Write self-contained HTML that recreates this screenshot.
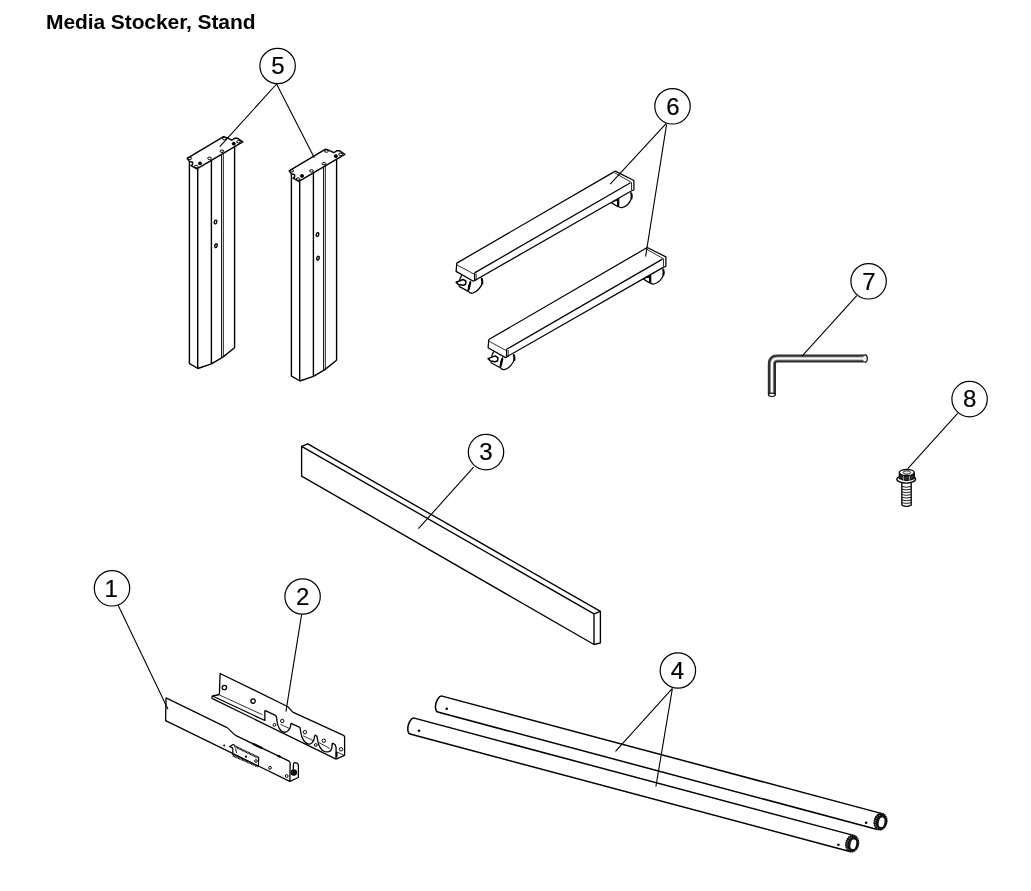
<!DOCTYPE html>
<html><head><meta charset="utf-8">
<style>
html,body{margin:0;padding:0;background:#fff;}
body{width:1031px;height:891px;overflow:hidden;position:relative;}
#title{position:absolute;left:45.9px;top:9.7px;letter-spacing:-0.09px;will-change:transform;font:bold 21px "Liberation Sans",sans-serif;color:#000;white-space:nowrap;}
svg{position:absolute;left:0;top:0;will-change:transform;}
.cn{font:24px "Liberation Sans",sans-serif;fill:#000;stroke:#000;stroke-width:0.2;}
</style></head><body>
<div id="title">Media Stocker, Stand</div>
<svg width="1031" height="891" viewBox="0 0 1031 891">
<defs>
<g id="pillar" fill="none" stroke="#000" stroke-width="1.4" stroke-linejoin="round">
  <path d="M187.1,158.3 L223.6,136.7 L227.1,137.9 L231.8,140.2 L235,138.2 L237.3,138.2 L242.8,141.8 L196.9,168.9 L191,165.7 L192.6,164.6 L192.6,162.2 L189.4,161.4 Z"/>
  <path d="M189.4,161.4 V363.4 M197.7,168.9 V368.5 M211.4,160.6 V363.8 M234.6,146.9 V347.7 M189.2,363.4 L197.9,368.5 L211.4,363.8 L222.5,357.4 L234.6,347.7"/>
  <path d="M221.5,154.6 V357.6 M223.3,153.5 V356.5" stroke-width="0.9"/>
  <ellipse cx="215.5" cy="222" rx="1.2" ry="1.9" transform="rotate(20 215.5 222)"/>
  <ellipse cx="216" cy="245.7" rx="1.2" ry="1.9" transform="rotate(20 216 245.7)"/>
  <g stroke-width="1">
  <ellipse cx="189.8" cy="158.3" rx="1.9" ry="1.2"/>
  <ellipse cx="196.1" cy="166.5" rx="1.9" ry="1.2"/>
  <ellipse cx="209.5" cy="158.3" rx="1.9" ry="1.2"/>
  <ellipse cx="222" cy="151.2" rx="1.9" ry="1.2"/>
  <ellipse cx="224.4" cy="138.6" rx="1.9" ry="1.2"/>
  <ellipse cx="238.5" cy="141.8" rx="1.9" ry="1.2"/>
  <ellipse cx="200" cy="163.4" rx="1.6" ry="1.4" fill="#000"/>
  <ellipse cx="233.8" cy="143.7" rx="1.6" ry="1.4" fill="#000"/>
  </g>
</g>
<g id="bar" fill="none" stroke="#000" stroke-width="1.25" stroke-linejoin="round">
  <!-- right caster -->
  <path d="M618.2,197 C617.5,200 617.5,203.5 618,206 C619,207.5 620.5,207.8 622,207.6 C626,207 630,203 631.5,198.3 C632,196 631.5,193.5 630.8,192" fill="#fff"/>
  <path d="M618.3,198 V206 M631.2,193 C631.8,195 631.8,197 631.4,199" stroke-width="2"/>
  <path d="M610.8,202.4 L617.6,199.7 L617.6,206.5 Z"/>
  <!-- left caster -->
  <path d="M470.7,281 C469,284 468,288 468.3,291 C469.5,293 471.5,293.5 473,293 C477,292 481.5,287 482.6,282 C482.8,280 482,278.5 481.2,277.8" fill="#fff"/>
  <path d="M470.5,282 L468.6,290 M481.6,278.5 C482.4,280.5 482.5,282.5 482.2,284.5" stroke-width="2"/>
  <path d="M461.8,274.8 L459.5,280.2 M458.8,285.3 L459.5,286.6 L468.3,291.4"/>
  <path d="M456.1,282.2 L463.2,279.5 L465.9,281.2 L465.6,284.3 L463.5,285.3 L458.5,284.6 Z" stroke-width="1.5"/>
  <!-- body -->
  <path d="M456.8,263.1 L615.3,171.1 L633.9,180.5 V189.8 L630.8,191.2 L473.4,281.2 L456.1,271.4 Z" fill="#fff"/>
  <path d="M474.6,272.9 L630.5,182.7 M474.6,272.9 V281"/>
  <path d="M456.8,264.8 L474.3,274.2 M614.6,172.8 L631.5,182.4 V190.2 M476.2,273.5 V280.5" stroke-width="0.8"/>
</g>
<g id="tube" fill="none" stroke="#000" stroke-width="1.5">
  <path d="M0,-8.25 L454.5,-8.25 M0,8.25 L455,8.25 M0,-8.25 A4,8.25 0 0 0 0,8.25"/>
  <circle cx="7.8" cy="2.7" r="1.3" fill="#000" stroke="none"/>
  <circle cx="442.4" cy="4.7" r="1.3" fill="#000" stroke="none"/>
</g>
<g id="ring">
  <ellipse cx="880.5" cy="821.6" rx="6.5" ry="8.5" transform="rotate(12 880.5 821.6)" fill="#111" stroke="#000" stroke-width="1" stroke-dasharray="1.6 0.6"/>
  <path d="M879.6,815.6 A3.6,6.2 12 0 0 878.3,828" fill="none" stroke="#fff" stroke-width="0.8" stroke-dasharray="0.7 1.3"/>
  <ellipse cx="881.6" cy="822.3" rx="2.8" ry="4.8" transform="rotate(12 881.6 822.3)" fill="#fff"/>
</g>
</defs>

<!-- callouts -->
<g fill="#fff" stroke="#000" stroke-width="1.2">
  <circle cx="277.6" cy="66" r="17.7"/>
  <circle cx="672.5" cy="106.3" r="17.7"/>
  <circle cx="868.6" cy="281.3" r="17.7"/>
  <circle cx="969.6" cy="399.1" r="17.7"/>
  <circle cx="486" cy="452.1" r="17.7"/>
  <circle cx="112" cy="588.3" r="17.7"/>
  <circle cx="302.6" cy="596.5" r="17.7"/>
  <circle cx="677.9" cy="670.5" r="17.7"/>
</g>
<g class="cn" text-anchor="middle">
  <text x="278" y="74">5</text>
  <text x="672.9" y="114.6">6</text>
  <text x="869" y="290">7</text>
  <text x="969.8" y="406.8">8</text>
  <text x="485.9" y="459.8">3</text>
  <text x="111.3" y="597">1</text>
  <text x="302.8" y="605">2</text>
  <text x="677.4" y="679">4</text>
</g>
<!-- part 5 pillars -->
<use href="#pillar"/>
<use href="#pillar" transform="translate(102,12.5)"/>

<!-- part 6 bars -->
<use href="#bar"/>
<use href="#bar" transform="translate(32,76.4)"/>

<!-- part 7 hex key -->
<g fill="none">
  <path d="M771.9,394.6 V364 Q771.9,358.5 777.4,358.5 H865" stroke="#2e2e2e" stroke-width="8.2"/>
  <path d="M771.9,394.6 V364 Q771.9,358.5 777.4,358.5 H865" stroke="#8a8a8a" stroke-width="3.8"/>
  <path d="M771.9,394.6 V364 Q771.9,358.5 777.4,358.5 H865" stroke="#fff" stroke-width="2"/>
  <ellipse cx="865" cy="358.6" rx="2" ry="2.9" fill="#fff"/>
  <path d="M864.8,354.6 Q867.4,355.2 867.3,358.6 Q867.4,362 864.8,362.6" stroke="#111" stroke-width="1.2"/>
  <ellipse cx="771.9" cy="394.8" rx="3.5" ry="1.7" fill="#fff" stroke="#111" stroke-width="1.1"/>
</g>

<!-- part 8 bolt -->
<g stroke="#000" stroke-width="1.1">
  <path d="M901.8,483 V505 Q906.5,507.8 911.2,505 V483" fill="#fff" stroke-width="1.3"/>
  <path d="M902,486.5 Q906.5,488 911,486.5 M902,489.2 Q906.5,490.7 911,489.2 M902,491.9 Q906.5,493.4 911,491.9 M902,494.6 Q906.5,496.1 911,494.6 M902,497.3 Q906.5,498.8 911,497.3 M902,500 Q906.5,501.5 911,500 M902,502.7 Q906.5,504.2 911,502.7" fill="none" stroke-width="0.9"/>
  <ellipse cx="906.2" cy="479.2" rx="9.4" ry="3.9" fill="#fff" stroke-width="1.4"/>
  <path d="M899.3,472.5 V478.5 Q906.8,482.5 914.3,478.5 V472.5" fill="#2a2a2a"/>
  <path d="M903.5,475.5 V480.8 M909.5,475.5 V480.8" stroke="#bbb" stroke-width="0.7"/>
  <ellipse cx="906.8" cy="472.5" rx="7.5" ry="3.2" fill="#fff" stroke-width="1.3"/>
  <ellipse cx="906.8" cy="472.5" rx="3.8" ry="1.7" fill="#eee" stroke-width="0.9"/>
</g>

<!-- part 3 board -->
<g fill="none" stroke="#000" stroke-width="1.35" stroke-linejoin="round">
  <path d="M301.6,446.3 L594,613.9 V644.5 L301.6,476.1 Z"/>
  <path d="M301.6,446.3 L307.8,443.8 L600.4,611.4 L594,613.9"/>
  <path d="M600.4,611.4 V642.9 L594,644.5"/>
</g>

<!-- part 4 tubes -->
<use href="#tube" transform="translate(439.9,704.1) rotate(14.95)"/>
<use href="#tube" transform="translate(412.2,726.1) rotate(14.95)"/>
<use href="#ring"/>
<use href="#ring" transform="translate(-28.3,22)"/>

<!-- part 1 -->
<g fill="none" stroke="#000" stroke-width="1.3" stroke-linejoin="round">
  <path d="M166,697.9 L226.5,727.3 C229.5,729 232,733 235.5,735.3 L289.1,761.2 Q290.2,762 290.2,763.5 L289.8,781.4 L165.6,720.6 Z"/>
  <path d="M252.9,743.8 L262.2,748.3 M277.5,755.6 L280.5,757" stroke-width="2.2"/>
  <path d="M289.8,781.4 L298.4,777.5 V765.5 Q298.4,763.5 296.5,762.9 L294.5,762.6 Q293.6,762.8 293.5,764 L293.3,769.7"/>
  <circle cx="293.8" cy="772.5" r="2.6" fill="#111"/>
  <path d="M232.8,748.1 L229.7,746.4 L233.1,744.5 L235,745.5 M232.8,748.1 V755 M258.7,757.3 L258.4,766.4" stroke-width="1.2"/>
  <path d="M234.5,746.2 L258.7,757.8 M232.8,755.4 L258.4,766.6" stroke-width="2.2" stroke-dasharray="1 0.45"/>
  <path d="M235.5,748.5 L236.5,753" stroke-width="0.9"/>
  <circle cx="256" cy="761" r="1.3" stroke-width="1"/>
  <circle cx="270" cy="767.8" r="1.4" stroke-width="1"/>
  <circle cx="286.7" cy="776" r="1.4" stroke-width="1"/>
  <circle cx="224.2" cy="745.4" r="1" fill="#000" stroke="none"/>
  <circle cx="246" cy="756.7" r="1.1" fill="#000" stroke="none"/>
</g>

<!-- part 2 -->
<g fill="none" stroke="#000" stroke-width="1.3" stroke-linejoin="round">
  <path d="M219.4,694.5 L220.1,673.5 L287.5,706.5 C289.5,708 291,711 293.3,712.4 L343,735.1 Q344.6,735.8 344.6,737 V755.4 L336.1,759.1"/>
  <path d="M219.4,694.5 L212.5,696 Q211.2,697.5 212.5,698.6 L336.1,759.1"/>
  <path d="M212.5,696 L264.85,720.5 V710.8 L265.3,710.6 L275.5,715.4 L276.5,717.1 L277,721 C277.5,726 280,731.5 284.2,732.2 C287.5,732.6 290.2,729 290.6,725.9 L291,723.4 L299.8,727.3 L300.3,729.3 L300.9,733 C301.5,737 304,743.5 308.9,744.2 C311.5,744.5 313.8,741 314.2,738.3 L314.7,735.7 L315.3,735.1 L316.9,736.2 L317.4,738.9 L317.9,741.5 C318.5,745 321,751 324.9,751.7 C327,752 329,751.7 329.1,751.7 C330.5,751 331.7,749 331.8,747.9 L332.3,743.7 L332.9,743.4 L335,744.5 L336.1,747.4 V759.1"/>
  <path d="M219.4,695 L262.4,714.7 M280.4,724.4 L289.1,728.3 M303,735.7 L313.1,740.5 M319,742.6 L329.7,748.5 M337.1,752.2 L344.6,755.4" stroke-width="0.8"/>
  <path d="M336.6,751.7 V757" stroke-width="2"/>
  <circle cx="224.4" cy="687.5" r="2.2"/>
  <circle cx="253.1" cy="701.1" r="2.2"/>
  <g stroke-width="1">
  <circle cx="282.3" cy="721" r="1.7"/>
  <circle cx="274.5" cy="724.9" r="1.4"/>
  <circle cx="304.9" cy="732.2" r="1.7"/>
  <circle cx="315.8" cy="745" r="1.4"/>
  <circle cx="323.8" cy="740.7" r="1.7"/>
  <circle cx="341.1" cy="749.3" r="1.7"/>
  </g>
</g>
<!-- leaders -->
<g stroke="#000" stroke-width="1.1" fill="none">
  <path d="M276.6,84 L219.8,146.6 M276.6,84 L314.3,157.8"/>
  <path d="M666.3,123.4 L610.2,184.2 M666.6,124.4 L645.6,256.5"/>
  <path d="M856.8,295.7 L801.6,356.7"/>
  <path d="M957.6,413.4 L907.8,468.6"/>
  <path d="M473.6,467.2 L418.4,528.7"/>
  <path d="M118,605.1 L168,709.3"/>
  <path d="M301.6,614.6 L285.9,711.6"/>
  <path d="M672.4,688.4 L615.5,751.4 M672.4,688.4 L655.9,786.5"/>
</g>

</svg>
</body></html>
